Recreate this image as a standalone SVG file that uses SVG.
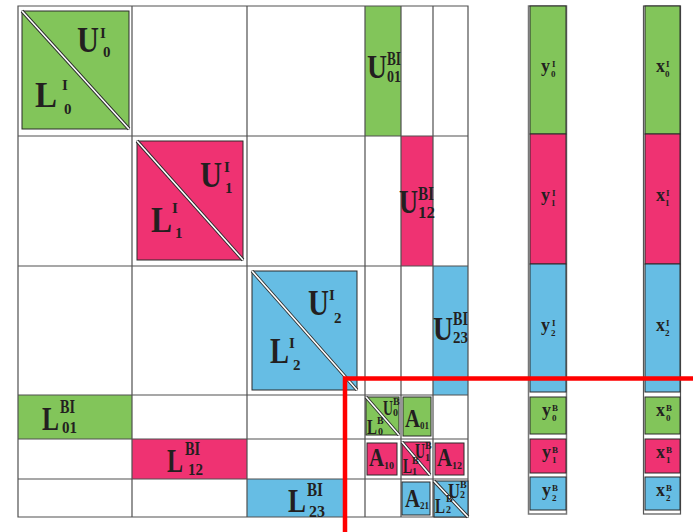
<svg xmlns="http://www.w3.org/2000/svg" width="693" height="532" viewBox="0 0 693 532">
<style>
.t{font-family:"Liberation Serif","Times New Roman",serif;font-weight:bold;fill:#231f20}
.g{fill:#82c55a}.p{fill:#ef3272}.b{fill:#66bde4}
.box{stroke:#2b2b2b;stroke-width:1}
.grid{stroke:#505050;stroke-width:1.2;fill:none}
.dk{stroke:#2b2b2b;stroke-width:3.4}
.wh{stroke:#ffffff;stroke-width:1.6}
.f36{font-size:36px}.f34{font-size:34px}.f25{font-size:25px}.f21{font-size:21px}
.f18{font-size:18px}.f17{font-size:17px}.f15{font-size:15px}.f11{font-size:11px}.f10{font-size:10px}.f9{font-size:9px}
</style>
<rect width="693" height="532" fill="#ffffff"/>
<g id="offdiag-fills">
<rect class="g" x="365" y="6" width="36" height="130"/>
<rect class="p" x="401" y="136" width="32" height="130"/>
<rect class="b" x="433" y="266" width="35" height="129"/>
<rect class="g" x="18" y="395" width="114" height="44"/>
<rect class="p" x="132" y="439" width="115" height="40"/>
<rect class="b" x="247" y="479" width="99" height="38"/>
</g>
<g id="grid">
<path class="grid" d="M18 6H468V517H18Z M132 6V517 M247 6V517 M365 6V517 M401 6V517 M433 6V517 M18 136H468 M18 266H468 M18 395H468 M18 439H468 M18 479H468"/>
</g>
<g id="LU0-interior">
<rect class="g box" x="22" y="11" width="107" height="118"/>
<line class="dk" x1="22" y1="11" x2="129" y2="129"/><line class="wh" x1="22" y1="11" x2="129" y2="129"/>
<text class="t f36"><tspan x="77" y="52" textLength="22" lengthAdjust="spacingAndGlyphs">U</tspan><tspan class="f15" x="100" y="38">I</tspan><tspan class="f15" x="103" y="57">0</tspan></text>
<text class="t f36"><tspan x="35" y="107" textLength="22" lengthAdjust="spacingAndGlyphs">L</tspan><tspan class="f15" x="62" y="90">I</tspan><tspan class="f15" x="64" y="114">0</tspan></text>
</g>
<g id="LU1-interior">
<rect class="p box" x="137" y="141" width="106" height="119"/>
<line class="dk" x1="137" y1="141" x2="243" y2="260"/><line class="wh" x1="137" y1="141" x2="243" y2="260"/>
<text class="t f36"><tspan x="200" y="187" textLength="22" lengthAdjust="spacingAndGlyphs">U</tspan><tspan class="f15" x="224" y="172">I</tspan><tspan class="f15" x="225" y="193">1</tspan></text>
<text class="t f36"><tspan x="151" y="232" textLength="21" lengthAdjust="spacingAndGlyphs">L</tspan><tspan class="f15" x="172" y="213">I</tspan><tspan class="f15" x="175" y="238">1</tspan></text>
</g>
<g id="LU2-interior">
<rect class="b box" x="252" y="271" width="105" height="119"/>
<line class="dk" x1="252" y1="271" x2="357" y2="390"/><line class="wh" x1="252" y1="271" x2="357" y2="390"/>
<text class="t f36"><tspan x="308" y="315" textLength="21" lengthAdjust="spacingAndGlyphs">U</tspan><tspan class="f15" x="329" y="300">I</tspan><tspan class="f15" x="334" y="323">2</tspan></text>
<text class="t f36"><tspan x="270" y="363" textLength="19" lengthAdjust="spacingAndGlyphs">L</tspan><tspan class="f15" x="289" y="348">I</tspan><tspan class="f15" x="293" y="370">2</tspan></text>
</g>
<g id="U01">
<text class="t f34"><tspan x="367" y="78" textLength="20" lengthAdjust="spacingAndGlyphs">U</tspan><tspan class="f18" x="387" y="65" textLength="14" lengthAdjust="spacingAndGlyphs">BI</tspan><tspan class="f17" x="387" y="82" textLength="14" lengthAdjust="spacingAndGlyphs">01</tspan></text>
</g>
<g id="U12">
<text class="t f34"><tspan x="399" y="213" textLength="19" lengthAdjust="spacingAndGlyphs">U</tspan><tspan class="f18" x="418" y="200" textLength="16" lengthAdjust="spacingAndGlyphs">BI</tspan><tspan class="f17" x="418" y="218" textLength="17" lengthAdjust="spacingAndGlyphs">12</tspan></text>
</g>
<g id="U23">
<text class="t f34"><tspan x="433" y="340" textLength="20" lengthAdjust="spacingAndGlyphs">U</tspan><tspan class="f18" x="453" y="325" textLength="15" lengthAdjust="spacingAndGlyphs">BI</tspan><tspan class="f17" x="453" y="343" textLength="15" lengthAdjust="spacingAndGlyphs">23</tspan></text>
</g>
<g id="L01">
<text class="t f34"><tspan x="42" y="430" textLength="17" lengthAdjust="spacingAndGlyphs">L</tspan><tspan class="f18" x="60" y="413" textLength="15" lengthAdjust="spacingAndGlyphs">BI</tspan><tspan class="f17" x="62" y="433" textLength="15" lengthAdjust="spacingAndGlyphs">01</tspan></text>
</g>
<g id="L12">
<text class="t f34"><tspan x="167" y="472" textLength="16" lengthAdjust="spacingAndGlyphs">L</tspan><tspan class="f18" x="185" y="455" textLength="15" lengthAdjust="spacingAndGlyphs">BI</tspan><tspan class="f17" x="188" y="475" textLength="15" lengthAdjust="spacingAndGlyphs">12</tspan></text>
</g>
<g id="L23">
<text class="t f34"><tspan x="288" y="512" textLength="18" lengthAdjust="spacingAndGlyphs">L</tspan><tspan class="f18" x="307" y="496" textLength="16" lengthAdjust="spacingAndGlyphs">BI</tspan><tspan class="f17" x="309" y="517" textLength="16" lengthAdjust="spacingAndGlyphs">23</tspan></text>
</g>
<g id="LU0-border">
<rect class="g box" x="366" y="397" width="33" height="38"/>
<line class="dk" x1="366" y1="397" x2="399" y2="435" stroke-width="2.6"/><line class="wh" x1="366" y1="397" x2="399" y2="435" stroke-width="1.2"/>
<text class="t f21"><tspan x="383" y="415" textLength="10" lengthAdjust="spacingAndGlyphs">U</tspan><tspan class="f10" x="393" y="405">B</tspan><tspan class="f10" x="393" y="416">0</tspan></text>
<text class="t f21"><tspan x="367" y="434" textLength="10" lengthAdjust="spacingAndGlyphs">L</tspan><tspan class="f10" x="377" y="424">B</tspan><tspan class="f10" x="378" y="435">0</tspan></text>
</g>
<g id="A01">
<rect class="g box" x="403" y="397" width="28" height="39"/>
<text class="t f25"><tspan x="405" y="427" textLength="15" lengthAdjust="spacingAndGlyphs">A</tspan><tspan class="f11" x="420" y="429" textLength="9" lengthAdjust="spacingAndGlyphs">01</tspan></text>
</g>
<g id="A10">
<rect class="p box" x="367" y="443" width="30" height="32"/>
<text class="t f25"><tspan x="369" y="466" textLength="15" lengthAdjust="spacingAndGlyphs">A</tspan><tspan class="f11" x="384" y="469" textLength="10" lengthAdjust="spacingAndGlyphs">10</tspan></text>
</g>
<g id="LU1-border">
<rect class="p box" x="402" y="442" width="28" height="33"/>
<line class="dk" x1="402" y1="442" x2="430" y2="475" stroke-width="2.6"/><line class="wh" x1="402" y1="442" x2="430" y2="475" stroke-width="1.2"/>
<text class="t f21"><tspan x="415" y="458" textLength="10" lengthAdjust="spacingAndGlyphs">U</tspan><tspan class="f10" x="425" y="449">B</tspan><tspan class="f10" x="425" y="461">1</tspan></text>
<text class="t f21"><tspan x="403" y="473" textLength="9" lengthAdjust="spacingAndGlyphs">L</tspan><tspan class="f10" x="412" y="464">B</tspan><tspan class="f10" x="412" y="475">1</tspan></text>
</g>
<g id="A12">
<rect class="p box" x="435" y="443" width="29" height="32"/>
<text class="t f25"><tspan x="437" y="466" textLength="15" lengthAdjust="spacingAndGlyphs">A</tspan><tspan class="f11" x="452" y="469" textLength="10" lengthAdjust="spacingAndGlyphs">12</tspan></text>
</g>
<g id="A21">
<rect class="b box" x="402" y="482" width="28" height="33"/>
<text class="t f25"><tspan x="405" y="507" textLength="15" lengthAdjust="spacingAndGlyphs">A</tspan><tspan class="f11" x="420" y="509" textLength="9" lengthAdjust="spacingAndGlyphs">21</tspan></text>
</g>
<g id="LU2-border">
<rect class="b box" x="434" y="481" width="34" height="36"/>
<line class="dk" x1="434" y1="481" x2="468" y2="517" stroke-width="2.6"/><line class="wh" x1="434" y1="481" x2="468" y2="517" stroke-width="1.2"/>
<text class="t f21"><tspan x="448" y="498" textLength="12" lengthAdjust="spacingAndGlyphs">U</tspan><tspan class="f10" x="460" y="488">B</tspan><tspan class="f10" x="460" y="498">2</tspan></text>
<text class="t f21"><tspan x="435" y="513" textLength="10" lengthAdjust="spacingAndGlyphs">L</tspan><tspan class="f10" x="446" y="502">B</tspan><tspan class="f10" x="446" y="513">2</tspan></text>
</g>
<g id="vector-y">
<rect x="528.5" y="6" width="38" height="508" fill="#ffffff" stroke="#777" stroke-width="1.5"/>
<rect class="g box" x="530" y="6" width="36" height="128"/>
<rect class="p box" x="530" y="134" width="36" height="130"/>
<rect class="b box" x="530" y="264" width="36" height="128"/>
<rect class="g box" x="530" y="397" width="36" height="37"/>
<rect class="p box" x="530" y="439" width="36" height="34"/>
<rect class="b box" x="530" y="477" width="36" height="33"/>
<text class="t f18"><tspan x="541" y="72">y</tspan><tspan class="f9" x="552" y="67">I</tspan><tspan class="f9" x="551" y="77">0</tspan></text>
<text class="t f18"><tspan x="541" y="201">y</tspan><tspan class="f9" x="552" y="196">I</tspan><tspan class="f9" x="551" y="206">1</tspan></text>
<text class="t f18"><tspan x="541" y="331">y</tspan><tspan class="f9" x="552" y="326">I</tspan><tspan class="f9" x="551" y="336">2</tspan></text>
<text class="t f18"><tspan x="542" y="416">y</tspan><tspan class="f9" x="552" y="411">B</tspan><tspan class="f9" x="552" y="421">0</tspan></text>
<text class="t f18"><tspan x="542" y="458">y</tspan><tspan class="f9" x="552" y="453">B</tspan><tspan class="f9" x="552" y="463">1</tspan></text>
<text class="t f18"><tspan x="542" y="496">y</tspan><tspan class="f9" x="552" y="491">B</tspan><tspan class="f9" x="552" y="501">2</tspan></text>
</g>
<g id="vector-x">
<rect x="643.5" y="6" width="37" height="508" fill="#ffffff" stroke="#555" stroke-width="1.2"/>
<rect class="g box" x="645" y="6" width="35" height="128"/>
<rect class="p box" x="645" y="134" width="35" height="130"/>
<rect class="b box" x="645" y="264" width="35" height="128"/>
<rect class="g box" x="645" y="397" width="35" height="37"/>
<rect class="p box" x="645" y="439" width="35" height="34"/>
<rect class="b box" x="645" y="477" width="35" height="33"/>
<text class="t f18"><tspan x="656" y="72">x</tspan><tspan class="f9" x="666" y="67">I</tspan><tspan class="f9" x="665" y="77">0</tspan></text>
<text class="t f18"><tspan x="656" y="201">x</tspan><tspan class="f9" x="666" y="196">I</tspan><tspan class="f9" x="665" y="206">1</tspan></text>
<text class="t f18"><tspan x="656" y="331">x</tspan><tspan class="f9" x="666" y="326">I</tspan><tspan class="f9" x="665" y="336">2</tspan></text>
<text class="t f18"><tspan x="656" y="416">x</tspan><tspan class="f9" x="666" y="411">B</tspan><tspan class="f9" x="666" y="421">0</tspan></text>
<text class="t f18"><tspan x="656" y="458">x</tspan><tspan class="f9" x="666" y="453">B</tspan><tspan class="f9" x="666" y="463">1</tspan></text>
<text class="t f18"><tspan x="656" y="496">x</tspan><tspan class="f9" x="666" y="491">B</tspan><tspan class="f9" x="666" y="501">2</tspan></text>
</g>
<g id="connectors">
<path d="M693 378.5H345V532" fill="none" stroke="#ff0000" stroke-width="4.5"/>
</g>
</svg>
